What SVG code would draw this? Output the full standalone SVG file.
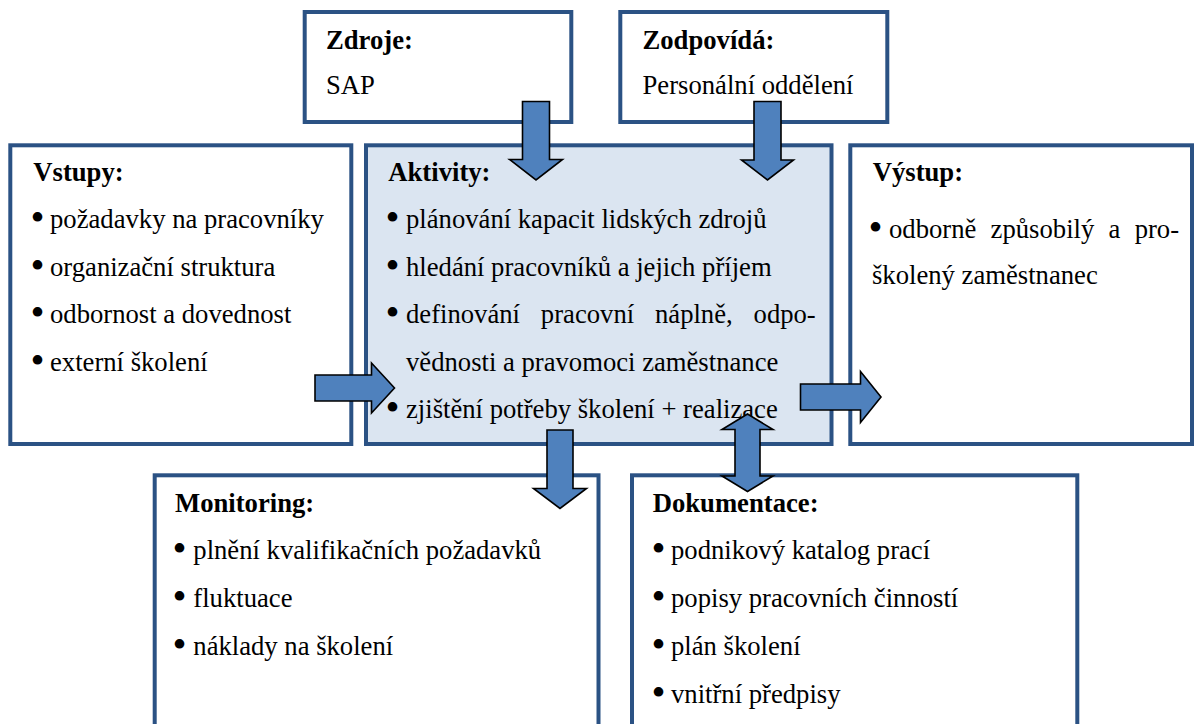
<svg xmlns="http://www.w3.org/2000/svg" width="1196" height="724" viewBox="0 0 1196 724">
<style>
.box{fill:#ffffff;stroke:#2b5284;stroke-width:4}
.act{fill:#dbe5f1}
.t{font-family:"Liberation Serif","Times New Roman",serif;font-size:26.67px;fill:#000}
.h{font-weight:bold}
.b{font-size:40px}
.arr{fill:#4f81bd;stroke:#000;stroke-width:1.6;stroke-linejoin:miter}
</style>
<rect width="1196" height="724" fill="#ffffff"/>
<g id="zdroje">
<rect class="box" x="304.7" y="12" width="266.6" height="110"/>
<text class="t h" x="326" y="48.5">Zdroje:</text>
<text class="t" x="326" y="93.5">SAP</text>
</g>
<g id="zodpovida">
<rect class="box" x="620.3" y="12" width="267" height="110"/>
<text class="t h" x="642.5" y="48.5">Zodpovídá:</text>
<text class="t" x="642.5" y="93.5">Personální oddělení</text>
</g>
<g id="vstupy">
<rect class="box" x="10.3" y="145.3" width="341" height="298.7"/>
<text class="t h" x="33.3" y="180.5">Vstupy:</text>
<text class="t" y="228"><tspan class="b" x="30.5" dy="3">•</tspan><tspan x="50" dy="-3">požadavky na pracovníky</tspan></text>
<text class="t" y="275.5"><tspan class="b" x="30.5" dy="3">•</tspan><tspan x="50" dy="-3">organizační struktura</tspan></text>
<text class="t" y="323"><tspan class="b" x="30.5" dy="3">•</tspan><tspan x="50" dy="-3">odbornost a dovednost</tspan></text>
<text class="t" y="370.5"><tspan class="b" x="30.5" dy="3">•</tspan><tspan x="50" dy="-3">externí školení</tspan></text>
</g>
<g id="aktivity">
<rect class="box act" x="366" y="145.3" width="465.5" height="298.7"/>
<text class="t h" x="388.3" y="180.5">Aktivity:</text>
<text class="t" y="228"><tspan class="b" x="385.5" dy="3">•</tspan><tspan x="406" dy="-3">plánování kapacit lidských zdrojů</tspan></text>
<text class="t" y="276"><tspan class="b" x="385.5" dy="3">•</tspan><tspan x="406" dy="-3">hledání pracovníků a jejich příjem</tspan></text>
<text class="t" y="323"><tspan class="b" x="385.5" dy="3">•</tspan><tspan x="406" dy="-3" word-spacing="14.2">definování pracovní náplně, odpo-</tspan></text>
<text class="t" x="406" y="370.5">vědnosti a pravomoci zaměstnance</text>
<text class="t" y="418"><tspan class="b" x="385.5" dy="3">•</tspan><tspan x="406" dy="-3">zjištění potřeby školení + realizace</tspan></text>
</g>
<g id="vystup">
<rect class="box" x="850.3" y="145.3" width="341.7" height="298.7"/>
<text class="t h" x="872.7" y="180.5">Výstup:</text>
<text class="t" y="237.5"><tspan class="b" x="868.5" dy="3">•</tspan><tspan x="889" dy="-3" word-spacing="7.6">odborně způsobilý a pro-</tspan></text>
<text class="t" x="872" y="284">školený zaměstnanec</text>
</g>
<g id="monitoring">
<rect class="box" x="154.7" y="475.3" width="443.8" height="270"/>
<text class="t h" x="175" y="511.5">Monitoring:</text>
<text class="t" y="559"><tspan class="b" x="172.5" dy="3">•</tspan><tspan x="193.3" dy="-3">plnění kvalifikačních požadavků</tspan></text>
<text class="t" y="607"><tspan class="b" x="172.5" dy="3">•</tspan><tspan x="193.3" dy="-3">fluktuace</tspan></text>
<text class="t" y="654.5"><tspan class="b" x="172.5" dy="3">•</tspan><tspan x="193.3" dy="-3">náklady na školení</tspan></text>
</g>
<g id="dokumentace">
<rect class="box" x="632" y="475.3" width="445.3" height="270"/>
<text class="t h" x="652.7" y="511.5">Dokumentace:</text>
<text class="t" y="559"><tspan class="b" x="651.5" dy="3">•</tspan><tspan x="671" dy="-3">podnikový katalog prací</tspan></text>
<text class="t" y="607"><tspan class="b" x="651.5" dy="3">•</tspan><tspan x="671" dy="-3">popisy pracovních činností</tspan></text>
<text class="t" y="654.5"><tspan class="b" x="651.5" dy="3">•</tspan><tspan x="671" dy="-3">plán školení</tspan></text>
<text class="t" y="702.5"><tspan class="b" x="651.5" dy="3">•</tspan><tspan x="671" dy="-3">vnitřní předpisy</tspan></text>
</g>
<g id="connectors">
<path class="arr" d="M522.5,101.5 H549.5 V159.5 H562.5 L536,180 L509.5,159.5 H522.5 Z"/>
<path class="arr" d="M754,101.5 H781 V160 H793.5 L767.5,180 L741.5,160 H754 Z"/>
<path class="arr" d="M315,375 H371.5 V363 L394.5,388 L371.5,413 V401 H315 Z"/>
<path class="arr" d="M800.5,384 H860.5 V371.5 L881,397 L860.5,422.5 V410 H800.5 Z"/>
<path class="arr" d="M547,430 H573 V488.5 H586.5 L560,508.5 L533.5,488.5 H547 Z"/>
<path class="arr" d="M747.5,414 L773,429.5 H760 V476 H773 L747.5,491.5 L722,476 H735 V429.5 H722 Z"/>
</g>
</svg>
